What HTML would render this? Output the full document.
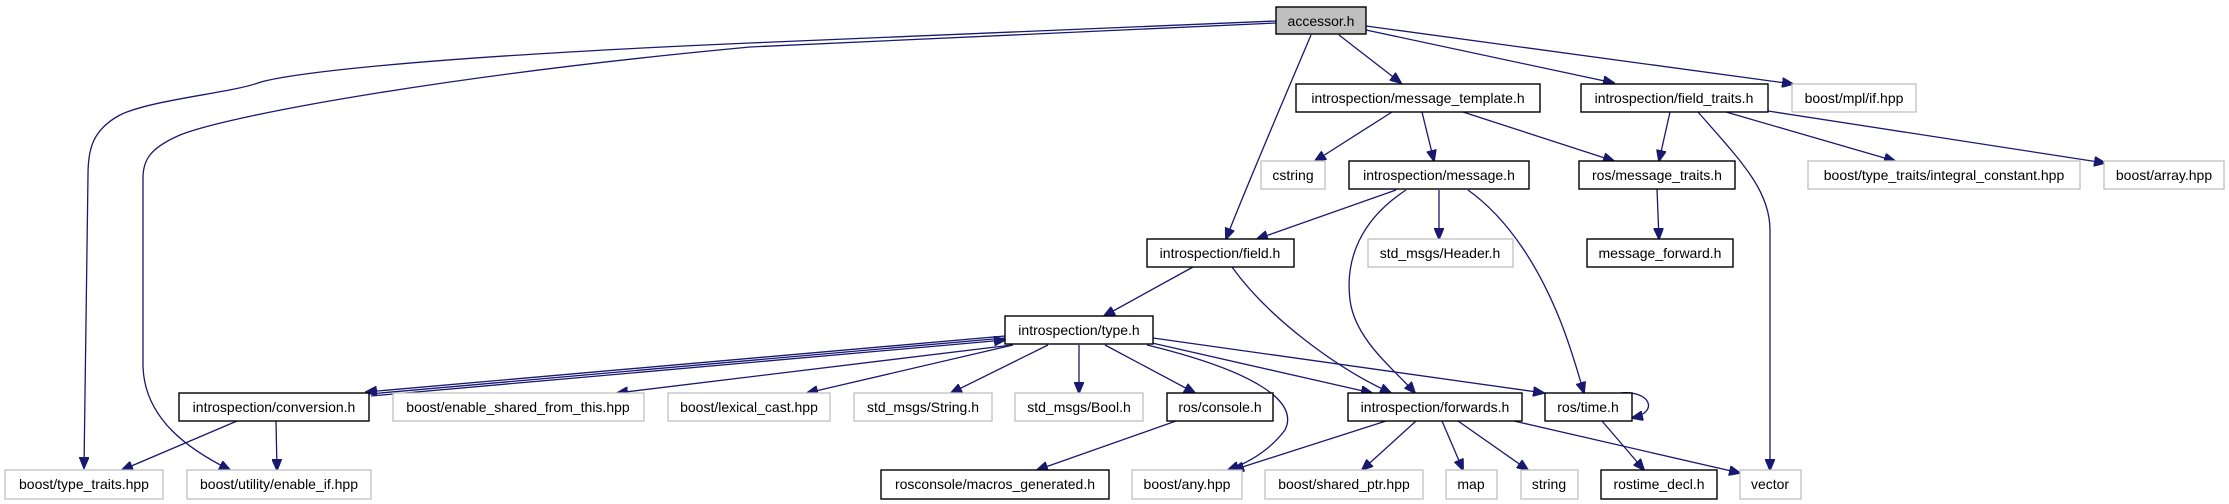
<!DOCTYPE html>
<html><head><meta charset="utf-8"><style>
html,body{margin:0;padding:0;background:#fff;}
svg{display:block;}
text{font-family:"Liberation Sans",sans-serif;font-size:14px;fill:#000;}
.g{fill:#fff;stroke:#bfbfbf;stroke-width:1.3;}
.b{fill:#fff;stroke:#000;stroke-width:1.4;}
.e{fill:none;stroke:#191970;stroke-width:1.3;}
</style></head><body>
<svg width="2229" height="504" viewBox="0 0 2229 504" xmlns="http://www.w3.org/2000/svg">
<defs>
<marker id="a" markerWidth="12" markerHeight="10" refX="11" refY="5" orient="auto" markerUnits="userSpaceOnUse">
<path d="M0,0 L12,5 L0,10 Z" fill="#191970" stroke="#191970"/>
</marker>
</defs>
<g marker-end="url(#a)">
<path class="e" d="M1276,21 L750,43 C400,58 280,75 258,83 C230,93 150,100 120,115 C92,130 88,150 88,175 L84,468"/>
<path class="e" d="M1276,23 L750,47 C450,75 230,115 180,135 C150,148 143,160 143,178 L143,367 C145,420 190,450 230,470"/>
<path class="e" d="M1339,35 L1401,83"/>
<path class="e" d="M1311,35 C1275,120 1245,190 1226,239"/>
<path class="e" d="M1366,30 L1614,83"/>
<path class="e" d="M1366,26 L1793,84"/>
<path class="e" d="M1392,112 L1315,161"/>
<path class="e" d="M1422,112 L1434,161"/>
<path class="e" d="M1463,112 L1614,161"/>
<path class="e" d="M1670,112 L1659,161"/>
<path class="e" d="M1698,112 C1740,160 1770,190 1770,230 L1770,470"/>
<path class="e" d="M1726,112 L1895,161"/>
<path class="e" d="M1768,111 L2105,163"/>
<path class="e" d="M1657,189 L1659,239"/>
<path class="e" d="M1396,190 L1257,239"/>
<path class="e" d="M1406,190 C1360,220 1345,260 1350,300 C1355,340 1395,370 1415,393"/>
<path class="e" d="M1439,190 L1439,239"/>
<path class="e" d="M1468,190 C1510,220 1540,270 1560,320 C1572,350 1580,380 1584,393"/>
<path class="e" d="M1193,267 L1104,316"/>
<path class="e" d="M1232,267 C1270,320 1340,370 1391,393"/>
<path class="e" d="M1005,336 L366,392"/>
<path class="e" d="M371,396 L1005,340"/>
<path class="e" d="M1012,345 L617,393"/>
<path class="e" d="M1013,345 L807,393"/>
<path class="e" d="M1048,345 L951,393"/>
<path class="e" d="M1079,345 L1079,393"/>
<path class="e" d="M1105,345 L1195,393"/>
<path class="e" d="M1147,345 C1250,370 1300,400 1285,430 C1270,450 1250,462 1228,470"/>
<path class="e" d="M1152,343 L1372,393"/>
<path class="e" d="M1153,338 L1544,393"/>
<path class="e" d="M1176,421 L1037,470"/>
<path class="e" d="M1386,421 L1233,470"/>
<path class="e" d="M1416,421 L1362,470"/>
<path class="e" d="M1442,421 L1463,470"/>
<path class="e" d="M1458,421 L1528,470"/>
<path class="e" d="M1514,421 L1740,473"/>
<path class="e" d="M1620,393 C1650,390 1660,412 1632,418"/>
<path class="e" d="M1602,421 L1644,470"/>
<path class="e" d="M237,421 L122,470"/>
<path class="e" d="M276,421 L277,470"/>
</g>
<path class="e" d="M369,394 L1005,338"/>

<rect x="1276" y="7" width="90" height="27" fill="#bfbfbf" stroke="#000" stroke-width="1.4"/><text x="1321" y="26" text-anchor="middle">accessor.h</text>

<rect class="b" x="1296" y="84" width="244" height="28"/><text x="1418" y="103" text-anchor="middle">introspection/message_template.h</text>
<rect class="b" x="1581" y="84" width="187" height="28"/><text x="1674" y="103" text-anchor="middle">introspection/field_traits.h</text>
<rect class="g" x="1792" y="84" width="124" height="28"/><text x="1854" y="103" text-anchor="middle">boost/mpl/if.hpp</text>

<rect class="g" x="1261" y="161" width="64" height="28"/><text x="1293" y="180" text-anchor="middle">cstring</text>
<rect class="b" x="1349" y="161" width="180" height="28"/><text x="1439" y="180" text-anchor="middle">introspection/message.h</text>
<rect class="b" x="1579" y="161" width="156" height="28"/><text x="1657" y="180" text-anchor="middle">ros/message_traits.h</text>
<rect class="g" x="1808" y="161" width="272" height="28"/><text x="1944" y="180" text-anchor="middle">boost/type_traits/integral_constant.hpp</text>
<rect class="g" x="2104" y="161" width="120" height="28"/><text x="2164" y="180" text-anchor="middle">boost/array.hpp</text>

<rect class="b" x="1147" y="239" width="147" height="28"/><text x="1220" y="258" text-anchor="middle">introspection/field.h</text>
<rect class="g" x="1368" y="239" width="145" height="28"/><text x="1440" y="258" text-anchor="middle">std_msgs/Header.h</text>
<rect class="b" x="1587" y="239" width="146" height="28"/><text x="1660" y="258" text-anchor="middle">message_forward.h</text>

<rect class="b" x="1005" y="316" width="148" height="28"/><text x="1079" y="335" text-anchor="middle">introspection/type.h</text>

<rect class="b" x="179" y="393" width="190" height="28"/><text x="274" y="412" text-anchor="middle">introspection/conversion.h</text>
<rect class="g" x="393" y="393" width="251" height="28"/><text x="518" y="412" text-anchor="middle">boost/enable_shared_from_this.hpp</text>
<rect class="g" x="668" y="393" width="162" height="28"/><text x="749" y="412" text-anchor="middle">boost/lexical_cast.hpp</text>
<rect class="g" x="854" y="393" width="138" height="28"/><text x="923" y="412" text-anchor="middle">std_msgs/String.h</text>
<rect class="g" x="1015" y="393" width="128" height="28"/><text x="1079" y="412" text-anchor="middle">std_msgs/Bool.h</text>
<rect class="b" x="1167" y="393" width="106" height="28"/><text x="1220" y="412" text-anchor="middle">ros/console.h</text>
<rect class="b" x="1348" y="393" width="174" height="28"/><text x="1435" y="412" text-anchor="middle">introspection/forwards.h</text>
<rect class="b" x="1545" y="393" width="87" height="28"/><text x="1588" y="412" text-anchor="middle">ros/time.h</text>

<rect class="g" x="5" y="470" width="158" height="29"/><text x="84" y="489" text-anchor="middle">boost/type_traits.hpp</text>
<rect class="g" x="187" y="470" width="184" height="29"/><text x="279" y="489" text-anchor="middle">boost/utility/enable_if.hpp</text>
<rect class="b" x="881" y="470" width="228" height="29"/><text x="995" y="489" text-anchor="middle">rosconsole/macros_generated.h</text>
<rect class="g" x="1132" y="470" width="110" height="29"/><text x="1187" y="489" text-anchor="middle">boost/any.hpp</text>
<rect class="g" x="1265" y="470" width="158" height="29"/><text x="1344" y="489" text-anchor="middle">boost/shared_ptr.hpp</text>
<rect class="g" x="1446" y="470" width="51" height="29"/><text x="1471" y="489" text-anchor="middle">map</text>
<rect class="g" x="1521" y="470" width="57" height="29"/><text x="1549" y="489" text-anchor="middle">string</text>
<rect class="b" x="1601" y="470" width="116" height="29"/><text x="1659" y="489" text-anchor="middle">rostime_decl.h</text>
<rect class="g" x="1740" y="470" width="61" height="29"/><text x="1770" y="489" text-anchor="middle">vector</text>
</svg>
</body></html>
